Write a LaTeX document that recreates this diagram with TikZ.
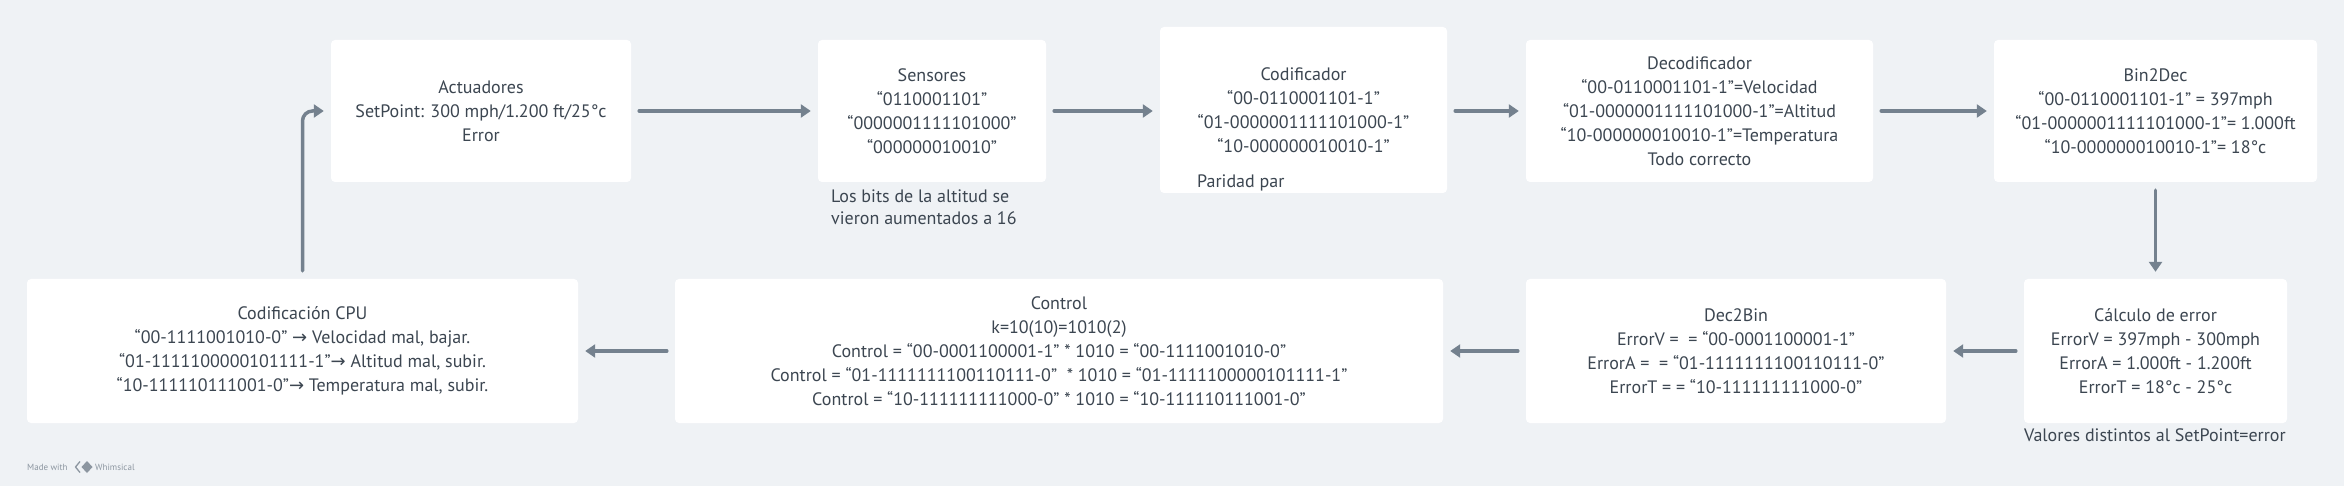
\documentclass[tikz,border=0pt]{standalone}
\usepackage{fontspec}
\setmainfont{PT Sans}
\newfontfamily\arrowfont{DejaVu Sans}
\usetikzlibrary{arrows.meta,calc}
\definecolor{bg}{HTML}{EFF2F5}
\definecolor{ink}{HTML}{3C4651}
\definecolor{edge}{HTML}{74818E}
\definecolor{foot}{HTML}{8C96A0}
\begin{document}
\begin{tikzpicture}[x=1pt,y=-1pt,
 box/.style={fill=white, rounded corners=4pt, inner sep=0pt, align=center, text=ink, font=\fontsize{18}{24}\selectfont},
 lbl/.style={text=ink, font=\fontsize{18}{22}\selectfont, inner sep=0pt, align=left},
 footlbl/.style={text=foot, font=\fontsize{9}{10}\selectfont, inner sep=0pt},
 arr/.style={draw=edge, line width=3.5pt, line cap=round, -{Triangle[length=10pt,width=13pt]}, shorten >=7pt, shorten <=8pt}]
\fill[bg] (0,0) rectangle (2344,486);
\useasboundingbox (0,0) rectangle (2344,486);
% top row
\node[box, minimum width=300pt, minimum height=142pt] (act) at (481,111) {Actuadores\\SetPoint: 300 mph/1.200 ft/25°c\\Error};
\node[box, minimum width=228pt, minimum height=142pt] (sen) at (932,111) {Sensores\\“0110001101”\\“0000001111101000”\\“000000010010”};
\node[box, minimum width=287pt, minimum height=166pt] (cod) at (1303.5,110) {Codificador\\“00-0110001101-1”\\“01-0000001111101000-1”\\“10-000000010010-1”};
\node[lbl, anchor=west] (par) at (1197,183) {Paridad par};
\node[box, minimum width=347pt, minimum height=142pt] (dec) at (1699.5,111) {Decodificador\\“00-0110001101-1”=Velocidad\\“01-0000001111101000-1”=Altitud\\“10-000000010010-1”=Temperatura\\Todo correcto};
\node[box, minimum width=323pt, minimum height=142pt] (b2d) at (2155.5,111) {Bin2Dec\\“00-0110001101-1” = 397mph\\“01-0000001111101000-1”= 1.000ft\\“10-000000010010-1”= 18°c};
\node[lbl, anchor=west] (bits) at (831,207) {Los bits de la altitud se\\vieron aumentados a 16};
% bottom row
\node[box, minimum width=551pt, minimum height=144pt] (cpu) at (302.5,351) {Codificación CPU\\“00-1111001010-0” {\arrowfont →} Velocidad mal, bajar.\\“01-1111100000101111-1”{\arrowfont →} Altitud mal, subir.\\“10-111110111001-0”{\arrowfont →} Temperatura mal, subir.};
\node[box, minimum width=768pt, minimum height=144pt] (ctl) at (1059,351) {Control\\k=10(10)=1010(2)\\Control = “00-0001100001-1” * 1010 = “00-1111001010-0”\\Control = “01-1111111100110111-0”\ \ * 1010 = “01-1111100000101111-1”\\Control = “10-111111111000-0” * 1010 = “10-111110111001-0”};
\node[box, minimum width=420pt, minimum height=144pt] (d2b) at (1736,351) {Dec2Bin\\ErrorV = \ = “00-0001100001-1”\\ErrorA = \ = “01-1111111100110111-0”\\ErrorT = = “10-111111111000-0”};
\node[box, minimum width=263pt, minimum height=144pt] (cal) at (2155.5,351) {Cálculo de error\\ErrorV = 397mph - 300mph\\ErrorA = 1.000ft - 1.200ft\\ErrorT = 18°c - 25°c};
\node[lbl, anchor=west] (val) at (2024,435) {Valores distintos al SetPoint=error};
% connectors
\draw[arr] (act.east) -- (sen.west);
\draw[arr] (sen.east) -- (sen.east -| cod.west);
\draw[arr] (cod.east |- dec.west) -- (dec.west);
\draw[arr] (dec.east) -- (b2d.west);
\draw[arr] (b2d.south) -- (cal.north);
\draw[arr] (cal.west) -- (d2b.east);
\draw[arr] (d2b.west) -- (ctl.east);
\draw[arr] (ctl.west) -- (cpu.east);
\draw[arr, rounded corners=10pt] (cpu.north) -- (cpu.north |- act.west) -- (act.west);
% footer
\node[footlbl, anchor=west] (made) at (27,467) {Made with};
\draw[foot, line width=1.3pt, line join=round] (80,461.5) -- (75.5,467) -- (80,472.5);
\fill[foot] (87,461) -- (92.5,467) -- (87,473) -- (81.5,467) -- cycle;
\node[footlbl, anchor=west] (whim) at (95,467) {Whimsical};
\end{tikzpicture}
\end{document}
